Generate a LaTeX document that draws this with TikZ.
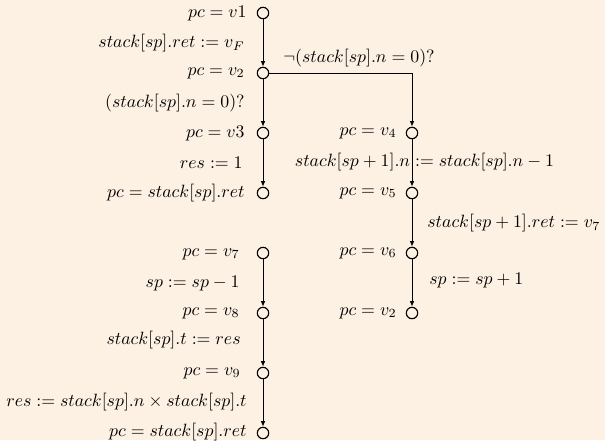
\documentclass[tikz,border=0pt]{standalone}
\usetikzlibrary{arrows.meta}
\definecolor{bg}{RGB}{253,241,228}
\begin{document}
\begin{tikzpicture}[x=0.5618pt,y=-0.5618pt,
  loc/.style={circle,draw,line width=0.65pt,minimum size=6.4pt,inner sep=0pt,fill=bg},
  lab/.style={inner sep=0pt,anchor=east},
  labr/.style={inner sep=0pt,anchor=west},
  tr/.style={line width=0.5pt,-{Latex[length=3.2pt,width=2.6pt]}}]
\fill[bg] (0,0) rectangle (605,440);
\useasboundingbox (0,0) rectangle (605,440);
% left column
\node[loc] (a1) at (263,13) {};
\node[loc] (a2) at (263,73) {};
\node[loc] (a3) at (263,133) {};
\node[loc] (a4) at (263,193) {};
\node[lab] (l1) at (247,13) {$pc = v1$};
\node[lab] (e1) at (245,43) {$stack[sp].ret := v_F$};
\node[lab] (l2) at (245,73) {$pc = v_2$};
\node[lab] (e2) at (245,103) {$(stack[sp].n = 0)?$};
\node[lab] (l3) at (245,133) {$pc = v3$};
\node[lab] (e3) at (243,163) {$res := 1$};
\node[lab] (l4) at (245,193) {$pc = stack[sp].ret$};
% right column
\node[loc] (b1) at (412,133) {};
\node[loc] (b2) at (412,193) {};
\node[loc] (b3) at (412,253) {};
\node[loc] (b4) at (412,313) {};
\coordinate (cr) at (412,73);
\node[labr] (e4) at (283,58) {$\neg(stack[sp].n = 0)?$};
\node[lab] (m1) at (397,133) {$pc = v_4$};
\node[inner sep=0pt] (e5) at (424.5,162) {$stack[sp+1].n := stack[sp].n - 1$};
\node[lab] (m2) at (397,193) {$pc = v_5$};
\node[labr] (e6) at (427,223) {$stack[sp+1].ret := v_7$};
\node[lab] (m3) at (397,253) {$pc = v_6$};
\node[labr] (e7) at (429,280) {$sp := sp + 1$};
\node[lab] (m4) at (397,313) {$pc = v_2$};
% lower left column
\node[loc] (c1) at (263,253) {};
\node[loc] (c2) at (263,313) {};
\node[loc] (c3) at (263,373) {};
\node[loc] (c4) at (263,433) {};
\node[lab] (n1) at (240,254) {$pc = v_7$};
\node[lab] (f1) at (240,283) {$sp := sp - 1$};
\node[lab] (n2) at (240,313) {$pc = v_8$};
\node[lab] (f2) at (241,340) {$stack[sp].t := res$};
\node[lab] (n3) at (241,373) {$pc = v_9$};
\node[lab] (f3) at (247,402) {$res := stack[sp].n \times stack[sp].t$};
\node[lab] (n4) at (247,432) {$pc = stack[sp].ret$};
% transitions
\draw[tr] (a1) -- (a2);
\draw[tr] (a2) -- (a3);
\draw[tr] (a3) -- (a4);
\draw[tr] (a2) -- (cr) -- (b1);
\draw[tr] (b1) -- (b2);
\draw[tr] (b2) -- (b3);
\draw[tr] (b3) -- (b4);
\draw[tr] (c1) -- (c2);
\draw[tr] (c2) -- (c3);
\draw[tr] (c3) -- (c4);
\end{tikzpicture}
\end{document}
